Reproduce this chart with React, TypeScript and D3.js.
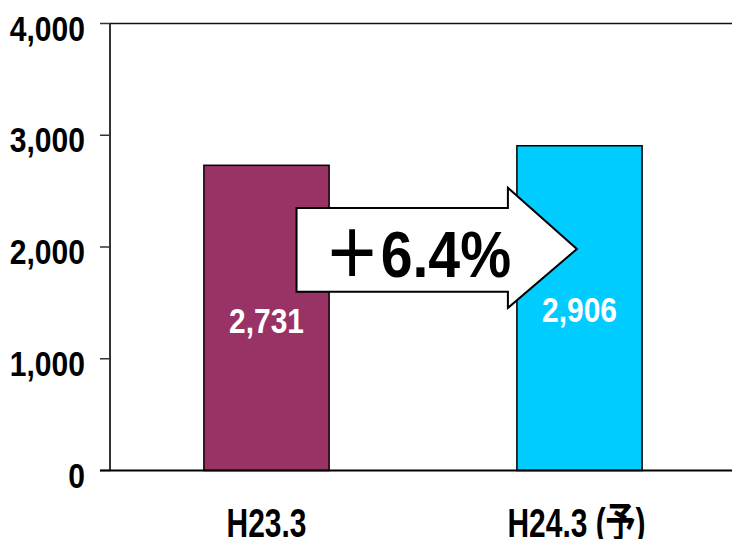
import React from 'react';
import * as d3 from 'd3';

// chart data
const categories = ['H23.3', 'H24.3 (予)'];
const values = [2731, 2906];
const valueLabels = ['2,731', '2,906'];
const barColors = ['#993366', '#00CCFF'];
const yTicks = [0, 1000, 2000, 3000, 4000];
const changeLabel = '＋6.4%';

const W = 732;
const H = 539;
const margin = { top: 23.5, right: -4, bottom: 68.5, left: 110 };

const FONT = '"Liberation Sans", Arial, "Noto Sans CJK JP", sans-serif';

const App: React.FC = () => {
  const x = d3
    .scaleBand<string>()
    .domain(categories)
    .range([margin.left, W - margin.right])
    .paddingInner(0.6)
    .paddingOuter(0.3);

  const y = d3
    .scaleLinear()
    .domain([0, 4000])
    .range([H - margin.bottom, margin.top]);

  const bw = x.bandwidth();
  const fmt = d3.format(',');

  // arrow annotation, placed between the two bars
  const b0 = x(categories[0])!;
  const b1 = x(categories[1])!;
  const ax0 = b0 + bw * 0.74;
  const axHead = b1 - 9;
  const axTip = b1 + 60;
  const bodyTop = y(2350);
  const bodyBot = y(1600);
  const headTop = y(2530);
  const headBot = y(1455);
  const tipY = y(1982);
  const arrowPath = d3.path();
  arrowPath.moveTo(ax0, bodyTop);
  arrowPath.lineTo(axHead, bodyTop);
  arrowPath.lineTo(axHead, headTop);
  arrowPath.lineTo(axTip, tipY);
  arrowPath.lineTo(axHead, headBot);
  arrowPath.lineTo(axHead, bodyBot);
  arrowPath.lineTo(ax0, bodyBot);
  arrowPath.closePath();

  return (
    <svg
      width={W}
      height={H}
      style={{ position: 'absolute', left: 0, top: 0, background: '#fff' }}
      fontFamily={FONT}
      fontWeight="bold"
    >
      {/* frame: top line and left axis */}
      <line x1={margin.left} x2={W} y1={y(4000)} y2={y(4000)} stroke="#111" strokeWidth={1.6} />
      <line x1={margin.left} x2={margin.left} y1={y(4000)} y2={y(0)} stroke="#000" strokeWidth={1.6} />

      {yTicks.map((t) => (
        <g key={t}>
          <line x1={margin.left - 10} x2={margin.left} y1={y(t)} y2={y(t)} stroke="#333" strokeWidth={1.5} />
          <text
            transform={`translate(85,${y(t) + 17}) scale(0.86,1)`}
            textAnchor="end"
            fontSize={35}
            fill="#000"
          >
            {fmt(t)}
          </text>
        </g>
      ))}

      {categories.map((c, i) => (
        <g key={c}>
          <rect
            x={x(c)}
            y={y(values[i])}
            width={bw}
            height={y(0) - y(values[i])}
            fill={barColors[i]}
            stroke="#000"
            strokeWidth={1.5}
          />
          <text
            transform={`translate(${x(c)! + bw / 2},${i === 0 ? 333 : 322}) scale(0.83,1)`}
            textAnchor="middle"
            fontSize={36}
            fill="#fff"
          >
            {valueLabels[i]}
          </text>
          <text
            transform={`translate(${x(c)! + bw / 2 - (i === 0 ? 0 : 3)},537) scale(0.73,1)`}
            textAnchor="middle"
            fontSize={41}
            fill="#000"
          >
            {c}
          </text>
        </g>
      ))}

      {/* bottom axis */}
      <line x1={margin.left - 10} x2={W} y1={y(0)} y2={y(0)} stroke="#000" strokeWidth={1.8} />

      {/* growth arrow */}
      <path d={arrowPath.toString()} fill="#fff" stroke="#000" strokeWidth={2} strokeLinejoin="miter" />
      <text
        transform={`translate(${(ax0 + axHead) / 2 + 15},277) scale(0.88,1)`}
        textAnchor="middle"
        fontSize={65}
        fill="#000"
      >
        {changeLabel}
      </text>
    </svg>
  );
};

export default App;
